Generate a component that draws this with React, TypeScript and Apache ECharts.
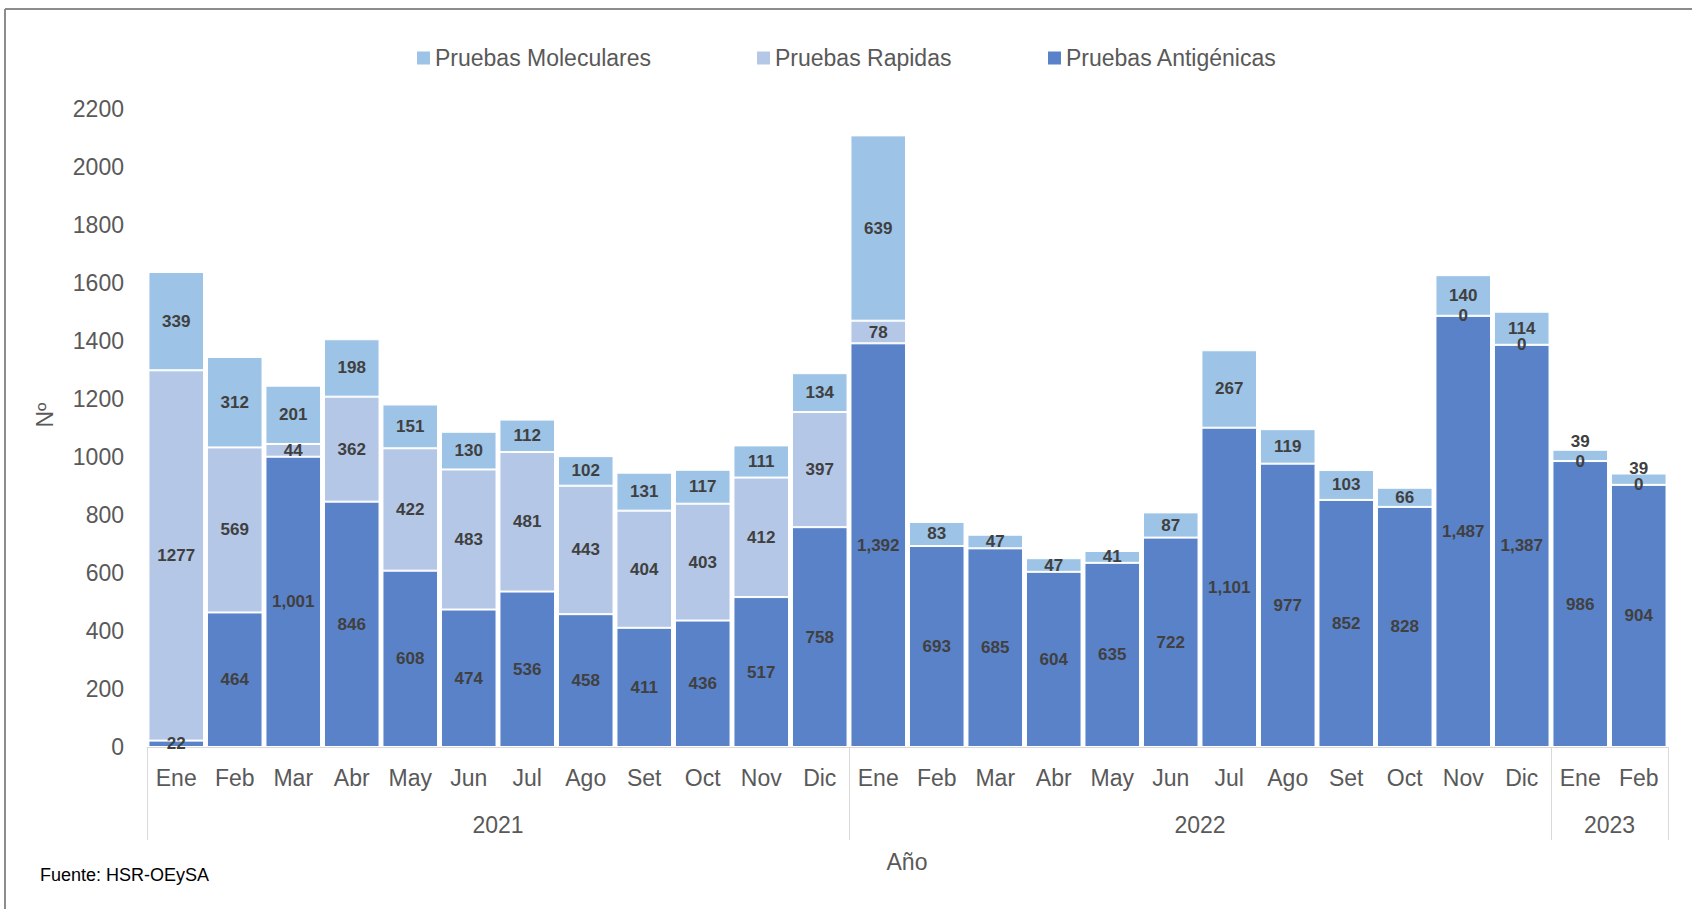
import React, { useEffect, useRef } from "react";
import * as echarts from "echarts";

const months = [
  "Ene", "Feb", "Mar", "Abr", "May", "Jun", "Jul", "Ago", "Set", "Oct", "Nov", "Dic",
  "Ene", "Feb", "Mar", "Abr", "May", "Jun", "Jul", "Ago", "Set", "Oct", "Nov", "Dic",
  "Ene", "Feb",
];
const years = ["2021", "2022", "2023"];
const yearSpans = [12, 12, 2];

const antigenicas = [
  22, 464, 1001, 846, 608, 474, 536, 458, 411, 436, 517, 758,
  1392, 693, 685, 604, 635, 722, 1101, 977, 852, 828, 1487, 1387,
  986, 904,
];
const rapidas: (number | null)[] = [
  1277, 569, 44, 362, 422, 483, 481, 443, 404, 403, 412, 397,
  78, null, null, null, null, null, null, null, null, null, 0, 0,
  0, 0,
];
const moleculares = [
  339, 312, 201, 198, 151, 130, 112, 102, 131, 117, 111, 134,
  639, 83, 47, 47, 41, 87, 267, 119, 103, 66, 140, 114,
  39, 39,
];
const seriesNames = ["Pruebas Moleculares", "Pruebas Rapidas", "Pruebas Antigénicas"];
const colors = { mol: "#9DC3E6", rap: "#B4C7E7", ant: "#5A82C9" };

const FONT = "'Liberation Sans', Arial, sans-serif";
const AX = 23;

export default function App() {
  const ref = useRef<HTMLDivElement>(null);
  useEffect(() => {
    if (!ref.current) return;
    const chart = echarts.init(ref.current, null, { renderer: "svg" });

    const boundaries: number[] = [0];
    const centers: number[] = [];
    let acc = 0;
    yearSpans.forEach((s) => {
      centers.push(acc + s / 2);
      acc += s;
      boundaries.push(acc);
    });

    const labelBase = {
      show: true,
      position: "inside",
      color: "#404040",
      fontWeight: "bold",
      fontSize: 17,
      fontFamily: FONT,
    };
    const barBase = {
      type: "bar",
      stack: "total",
      barCategoryGap: "5%",
      xAxisIndex: 0,
      yAxisIndex: 0,
    };

    const legendCommon = {
      top: 40,
      itemWidth: 13,
      itemHeight: 13,
      icon: "rect",
      itemStyle: { borderWidth: 0 },
      textStyle: { color: "#595959", fontSize: AX, fontFamily: FONT, lineHeight: 26 },
    };

    // Small top segments at the end: Excel placed their labels just above the bar
    const lastIdx = moleculares.length - 1;
    const molData = moleculares.map((v, i) => {
      if (i === lastIdx - 1) return { value: v, label: { position: "top", distance: 0 } };
      if (i === lastIdx) return { value: v, label: { position: "top", distance: -3 } };
      return v;
    });

    chart.setOption({
      animation: false,
      backgroundColor: "#ffffff",
      textStyle: { fontFamily: FONT },
      legend: [
        { ...legendCommon, left: 412, data: [seriesNames[0]] },
        { ...legendCommon, left: 752, data: [seriesNames[1]] },
        { ...legendCommon, left: 1043, data: [seriesNames[2]] },
      ],
      grid: { left: 147, right: 24, top: 109, bottom: 162, containLabel: false },
      xAxis: [
        {
          type: "category",
          data: months,
          axisLine: { show: true, lineStyle: { color: "#d9d9d9", width: 1 } },
          axisTick: { show: false },
          axisLabel: { color: "#595959", fontSize: AX, fontFamily: FONT, margin: 19, interval: 0 },
          splitLine: { show: false },
        },
        {
          type: "value",
          min: 0,
          max: months.length,
          position: "bottom",
          axisLine: { show: false },
          splitLine: { show: false },
          axisTick: {
            show: true,
            customValues: boundaries,
            length: 93,
            lineStyle: { color: "#d9d9d9", width: 1 },
          },
          axisLabel: {
            show: true,
            customValues: centers,
            margin: 66,
            color: "#595959",
            fontSize: AX,
            fontFamily: FONT,
            formatter: (v: number) => {
              const i = centers.findIndex((c) => Math.abs(c - v) < 1e-6);
              return i >= 0 ? years[i] : "";
            },
          },
        },
      ],
      yAxis: {
        type: "value",
        min: 0,
        max: 2200,
        interval: 200,
        axisLine: { show: false },
        axisTick: { show: false },
        splitLine: { show: false },
        axisLabel: {
          color: "#595959",
          fontSize: AX,
          fontFamily: FONT,
          margin: 23,
          formatter: (v: number) => String(v),
        },
      },
      series: [
        {
          ...barBase,
          name: seriesNames[2],
          data: antigenicas,
          itemStyle: { color: colors.ant, borderColor: "#ffffff", borderWidth: 1 },
          label: {
            ...labelBase,
            formatter: (p: any) => Number(p.value).toLocaleString("en-US"),
          },
        },
        {
          ...barBase,
          name: seriesNames[1],
          data: rapidas,
          itemStyle: { color: colors.rap, borderColor: "#ffffff", borderWidth: 1 },
          label: { ...labelBase },
        },
        {
          ...barBase,
          name: seriesNames[0],
          data: molData,
          itemStyle: { color: colors.mol, borderColor: "#ffffff", borderWidth: 1 },
          label: { ...labelBase },
        },
      ],
      graphic: [
        {
          type: "line",
          shape: { x1: 5, y1: 9, x2: 1692, y2: 9 },
          style: { stroke: "#8c8c8c", lineWidth: 2 },
        },
        {
          type: "line",
          shape: { x1: 5, y1: 9, x2: 5, y2: 909 },
          style: { stroke: "#8c8c8c", lineWidth: 2 },
        },
        {
          type: "text",
          x: 45,
          y: 415,
          rotation: Math.PI / 2,
          style: {
            text: "Nº",
            fill: "#595959",
            fontSize: AX,
            fontFamily: FONT,
            align: "center",
            verticalAlign: "middle",
          },
        },
        {
          type: "text",
          x: 907,
          y: 862,
          style: {
            text: "Año",
            fill: "#595959",
            fontSize: AX,
            fontFamily: FONT,
            align: "center",
            verticalAlign: "middle",
          },
        },
        {
          type: "text",
          x: 40,
          y: 875,
          style: {
            text: "Fuente: HSR-OEySA",
            fill: "#000000",
            fontSize: 18,
            fontFamily: FONT,
            align: "left",
            verticalAlign: "middle",
          },
        },
      ],
    });
    return () => chart.dispose();
  }, []);
  return (
    <div
      ref={ref}
      style={{ position: "fixed", left: 0, top: 0, width: 1692, height: 909, background: "#fff" }}
    />
  );
}
